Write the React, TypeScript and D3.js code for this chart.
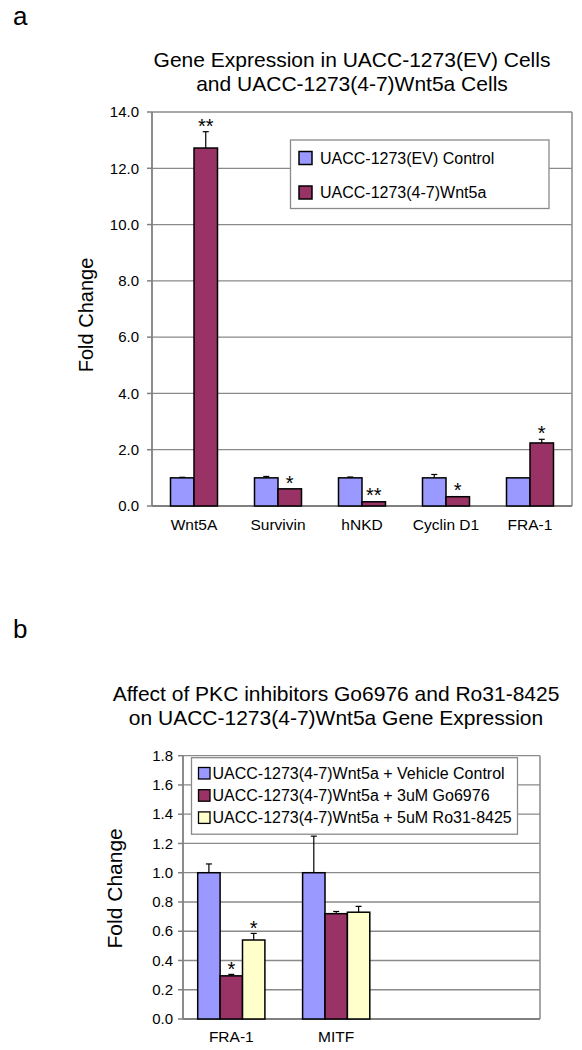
import React from "react";
import * as d3 from "d3";

// ---------- Data: panel a ----------
const genesA = ["Wnt5A", "Survivin", "hNKD", "Cyclin D1", "FRA-1"];
const controlVals = [1.0, 1.0, 1.0, 1.0, 1.0];
const controlErr = [0.02, 0.05, 0.03, 0.12, 0.01];
const wnt5aVals = [12.72, 0.61, 0.15, 0.33, 2.24];
const wnt5aErr = [0.58, 0.01, 0.01, 0.01, 0.13];
const wnt5aSig = ["**", "*", "**", "*", "*"];
const yTicksA = [0, 2, 4, 6, 8, 10, 12, 14];
const seriesA = ["UACC-1273(EV) Control", "UACC-1273(4-7)Wnt5a"];

// ---------- Data: panel b ----------
const genesB = ["FRA-1", "MITF"];
const vehicleVals = [1.0, 1.0];
const vehicleErr = [0.06, 0.25];
const goVals = [0.295, 0.72];
const goErr = [0.01, 0.015];
const roVals = [0.54, 0.73];
const roErr = [0.045, 0.04];
const goSig = ["*", ""];
const roSig = ["*", ""];
const yTicksB = [0, 0.2, 0.4, 0.6, 0.8, 1.0, 1.2, 1.4, 1.6, 1.8];
const seriesB = [
  "UACC-1273(4-7)Wnt5a + Vehicle Control",
  "UACC-1273(4-7)Wnt5a + 3uM Go6976",
  "UACC-1273(4-7)Wnt5a + 5uM Ro31-8425",
];

const BLUE = "#9999FF";
const PLUM = "#993366";
const CREAM = "#FFFFCC";
const GRID = "#8a8a8a";
const FONT = "'Liberation Sans', Arial, Helvetica, sans-serif";

function ErrBar({ x, y0, y1, cap }: { x: number; y0: number; y1: number; cap: number }) {
  if (Math.abs(y0 - y1) < 0.5) return null;
  return (
    <g stroke="#000" strokeWidth={1.2}>
      <line x1={x} x2={x} y1={y0} y2={y1} />
      <line x1={x - cap / 2} x2={x + cap / 2} y1={y1} y2={y1} />
    </g>
  );
}

function PanelA() {
  const left = 152, right = 572, top = 112, bottom = 506;
  const x = d3.scaleBand<string>().domain(genesA).range([left, right]);
  const y = d3.scaleLinear().domain([0, 14]).range([bottom, top]);
  const bw = 23.5;
  const fmt = d3.format(".1f");
  return (
    <g fontFamily={FONT}>
      <text x={13} y={25} fontSize={26}>a</text>
      <text x={352} y={67} fontSize={21} textAnchor="middle">Gene Expression in UACC-1273(EV) Cells</text>
      <text x={352} y={91} fontSize={21} textAnchor="middle">and UACC-1273(4-7)Wnt5a Cells</text>
      {/* grid */}
      {yTicksA.map((t) => (
        <line key={t} x1={left} x2={right} y1={y(t)} y2={y(t)} stroke={GRID} strokeWidth={1.3} />
      ))}
      <line x1={right} x2={right} y1={top} y2={bottom} stroke={GRID} strokeWidth={1.5} />
      <line x1={left} x2={left} y1={top} y2={bottom} stroke="#808080" strokeWidth={1.8} />
      <line x1={left} x2={right} y1={bottom} y2={bottom} stroke="#808080" strokeWidth={1.8} />
      {yTicksA.map((t) => (
        <g key={"t" + t}>
          <line x1={left - 5} x2={left} y1={y(t)} y2={y(t)} stroke="#808080" strokeWidth={1.5} />
          <text x={139} y={y(t)} dy="0.35em" fontSize={15} textAnchor="end">{fmt(t)}</text>
        </g>
      ))}
      <text transform={`translate(93,${(top + bottom) / 2 + 6}) rotate(-90)`} fontSize={20} textAnchor="middle">Fold Change</text>
      {/* bars */}
      {genesA.map((g, i) => {
        const c = (x(g) as number) + x.bandwidth() / 2;
        return (
          <g key={g}>
            <rect x={c - bw} y={y(controlVals[i])} width={bw} height={bottom - y(controlVals[i])} fill={BLUE} stroke="#000" strokeWidth={1.5} />
            <rect x={c} y={y(wnt5aVals[i])} width={bw} height={bottom - y(wnt5aVals[i])} fill={PLUM} stroke="#000" strokeWidth={1.5} />
            <ErrBar x={c - bw / 2} y0={y(controlVals[i])} y1={y(controlVals[i] + controlErr[i])} cap={6} />
            <ErrBar x={c + bw / 2} y0={y(wnt5aVals[i])} y1={y(wnt5aVals[i] + wnt5aErr[i])} cap={6} />
            <text x={c + bw / 2} y={y(wnt5aVals[i] + wnt5aErr[i]) + 1} fontSize={20} textAnchor="middle">{wnt5aSig[i]}</text>
            <text x={c} y={530} fontSize={15.5} textAnchor="middle">{g}</text>
          </g>
        );
      })}
      {/* legend */}
      <rect x={290.5} y={140} width={258.5} height={68.5} fill="#fff" stroke={GRID} strokeWidth={1.3} />
      {seriesA.map((s, i) => (
        <g key={s}>
          <rect x={299} y={151.5 + i * 34.5} width={13} height={13} fill={i === 0 ? BLUE : PLUM} stroke="#000" strokeWidth={1.5} />
          <text x={320} y={158 + i * 34.5} dy="0.35em" fontSize={16}>{s}</text>
        </g>
      ))}
    </g>
  );
}

function PanelB() {
  const left = 183, right = 540, top = 755.7, bottom = 1019;
  const xi = d3.scaleLinear().domain([0, 1]).range([231.3, 336.2]);
  const y = d3.scaleLinear().domain([0, 1.8]).range([bottom, top]);
  const bw = 22.4;
  const fmt = d3.format(".1f");
  const series = [
    { vals: vehicleVals, err: vehicleErr, fill: BLUE, sig: ["", ""] },
    { vals: goVals, err: goErr, fill: PLUM, sig: goSig },
    { vals: roVals, err: roErr, fill: CREAM, sig: roSig },
  ];
  return (
    <g fontFamily={FONT}>
      <text x={13} y={638} fontSize={26}>b</text>
      <text x={336} y={701} fontSize={21} textAnchor="middle">Affect of PKC inhibitors Go6976 and Ro31-8425</text>
      <text x={336} y={725} fontSize={21} textAnchor="middle">on UACC-1273(4-7)Wnt5a Gene Expression</text>
      {yTicksB.map((t) => (
        <line key={t} x1={left} x2={right} y1={y(t)} y2={y(t)} stroke={GRID} strokeWidth={1.3} />
      ))}
      <line x1={right} x2={right} y1={top} y2={bottom} stroke={GRID} strokeWidth={1.5} />
      <line x1={left} x2={left} y1={top} y2={bottom} stroke="#808080" strokeWidth={1.8} />
      <line x1={left} x2={right} y1={bottom} y2={bottom} stroke="#808080" strokeWidth={1.8} />
      {yTicksB.map((t) => (
        <g key={"t" + t}>
          <line x1={left - 5} x2={left} y1={y(t)} y2={y(t)} stroke="#808080" strokeWidth={1.5} />
          <text x={173} y={y(t)} dy="0.35em" fontSize={15} textAnchor="end">{fmt(t)}</text>
        </g>
      ))}
      <text transform={`translate(122,${(top + bottom) / 2 + 1}) rotate(-90)`} fontSize={21} textAnchor="middle">Fold Change</text>
      {genesB.map((g, i) => {
        const c = xi(i);
        return (
          <g key={g}>
            {series.map((s, k) => {
              const bx = c - 1.5 * bw + k * bw;
              return (
                <g key={k}>
                  <rect x={bx} y={y(s.vals[i])} width={bw} height={bottom - y(s.vals[i])} fill={s.fill} stroke="#000" strokeWidth={1.5} />
                  <ErrBar x={bx + bw / 2} y0={y(s.vals[i])} y1={y(s.vals[i] + s.err[i])} cap={6} />
                  {s.sig[i] ? (
                    <text x={bx + bw / 2} y={y(s.vals[i] + s.err[i]) + 2} fontSize={20} textAnchor="middle">{s.sig[i]}</text>
                  ) : null}
                </g>
              );
            })}
            <text x={c} y={1042} fontSize={15.5} textAnchor="middle">{g}</text>
          </g>
        );
      })}
      <rect x={191.5} y={757.7} width={326} height={76.5} fill="#fff" stroke={GRID} strokeWidth={1.3} />
      {seriesB.map((s, k) => (
        <g key={s}>
          <rect x={198.5} y={767.5 + k * 22.2} width={11.5} height={11.5} fill={series[k].fill} stroke="#000" strokeWidth={1.3} />
          <text x={212.5} y={773.3 + k * 22.2} dy="0.35em" fontSize={16}>{s}</text>
        </g>
      ))}
    </g>
  );
}

export default function App() {
  return (
    <svg width={582} height={1050} style={{ position: "absolute", left: 0, top: 0, background: "#fff" }}>
      <rect x={0} y={0} width={582} height={1050} fill="#fff" />
      <PanelA />
      <PanelB />
    </svg>
  );
}
